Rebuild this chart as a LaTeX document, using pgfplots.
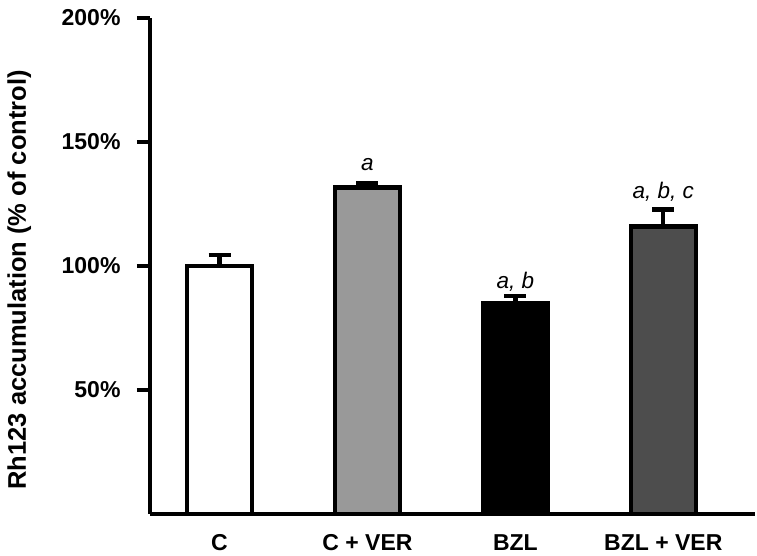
\documentclass[border=0pt]{standalone}
\usepackage{pgfplots}
\pgfplotsset{compat=1.18}
\usepackage{fontspec}
\setmainfont{Liberation Sans}
\definecolor{cver}{HTML}{999999}
\definecolor{cbzlver}{HTML}{4D4D4D}
\begin{document}
\begin{tikzpicture}
\begin{axis}[
  scale only axis,
  width=605pt, height=496pt,
  at={(0,0)}, anchor=south west,
  xmin=-0.47, xmax=3.62,
  ymin=0, ymax=200,
  axis x line*=bottom, axis y line*=left,
  axis line style={line width=4.4pt, -},
  xtick={0,1,2,3},
  xticklabels={C, C + VER, BZL, BZL + VER},
  x tick style={draw=none},
  ytick={50,100,150,200},
  yticklabels={50\%,100\%,150\%,200\%},
  y tick style={line width=4.4pt, black},
  tick align=outside,
  major tick length=13pt,
  yticklabel style={font=\fontsize{23}{26}\selectfont\bfseries, xshift=-13pt},
  xticklabel style={font=\fontsize{23}{26}\selectfont\bfseries, yshift=-4pt},
  ylabel={Rh123 accumulation (\% of control)},
  ylabel style={font=\fontsize{25.5}{28}\selectfont\bfseries, at={(axis description cs:-0.216,0.472)}, anchor=center},
  ybar, bar width=65pt, bar shift=0pt,
  clip=false,
  error bars/y dir=plus, error bars/y explicit,
  error bars/error bar style={line width=4.4pt, black},
  error bars/error mark options={rotate=90, mark size=11pt, line width=4.4pt, black},
]
\addplot[draw=black, line width=4.5pt, fill=white] coordinates {(0,100) +- (0,4.5)};
\addplot[draw=black, line width=4.5pt, fill=cver] coordinates {(1,131.7) +- (0,1.6)};
\addplot[draw=black, line width=4.5pt, fill=black] coordinates {(2,85) +- (0,2.8)};
\addplot[draw=black, line width=4.5pt, fill=cbzlver] coordinates {(3,115.9) +- (0,6.9)};
\node[font=\fontsize{22.5}{25}\selectfont\itshape] at (axis cs:1,141) {a};
\node[font=\fontsize{22.5}{25}\selectfont\itshape] at (axis cs:2,93.8) {a, b};
\node[font=\fontsize{22.5}{25}\selectfont\itshape] at (axis cs:3,129.8) {a, b, c};
\end{axis}
\pgfresetboundingbox
\path[use as bounding box] (-150pt,-42pt) rectangle (607pt,514pt);
\end{tikzpicture}
\end{document}
